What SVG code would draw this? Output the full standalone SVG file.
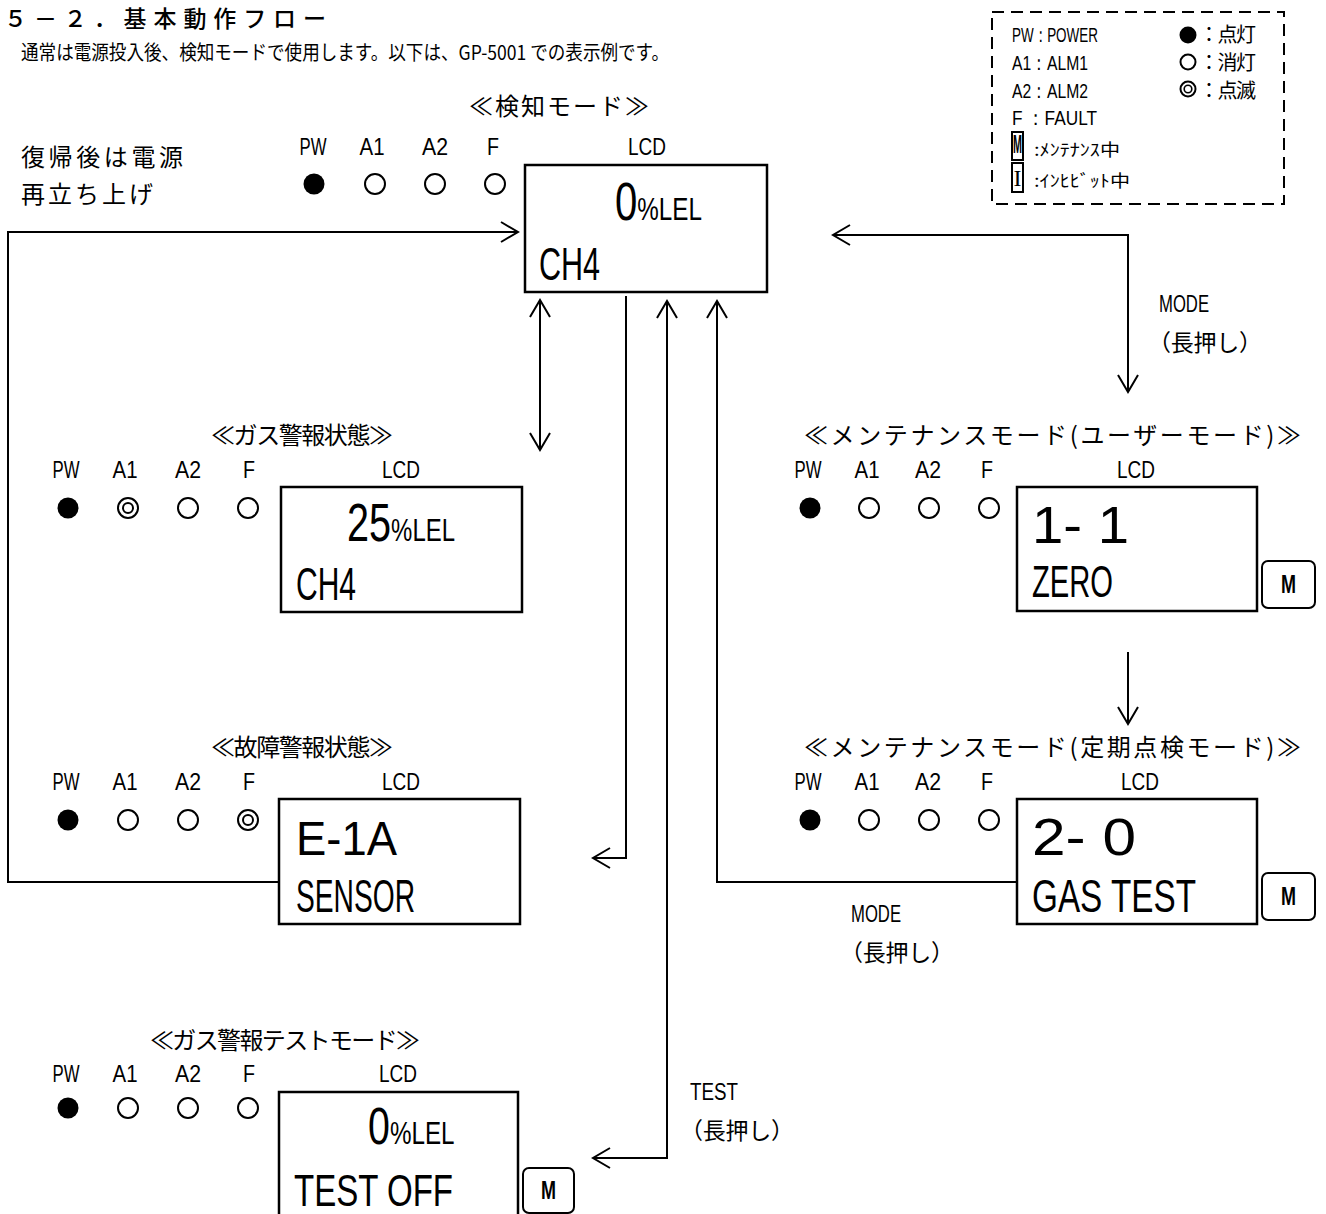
<svg xmlns="http://www.w3.org/2000/svg" width="1326" height="1214" viewBox="0 0 1326 1214">
<defs>
<style>
.jp{font-family:"Noto Sans CJK JP","Noto Sans",sans-serif;fill:#000}
.ln{font-family:"Liberation Sans","DejaVu Sans",sans-serif;fill:#000}
.lbl{font-size:24px;text-anchor:middle}
.ttl{font-size:24px}
.box{fill:#fff;stroke:#000;stroke-width:2.5}
.on{fill:#000}
.off{fill:none;stroke:#000;stroke-width:2}
.badge{fill:#fff;stroke:#000;stroke-width:2}
.mb{font-family:"Liberation Sans",sans-serif;font-weight:bold;font-size:26px;text-anchor:middle}
.conn{fill:none;stroke:#000;stroke-width:2}
</style>
<marker id="ah" viewBox="-19 -12 21 24" refX="0" refY="0" markerWidth="21" markerHeight="24" markerUnits="userSpaceOnUse" orient="auto-start-reverse">
<path d="M-17,-10 L0,0 L-17,10" fill="none" stroke="#000" stroke-width="2"/>
</marker>
</defs>
<rect width="1326" height="1214" fill="#fff"/>

<g id="header">
<text class="jp" x="4" y="27" font-size="23" font-weight="500" textLength="322">５－２．基本動作フロー</text>
<text class="jp" x="21" y="60" font-size="20" textLength="648" lengthAdjust="spacingAndGlyphs">通常は電源投入後、検知モードで使用します。以下は、GP-5001 での表示例です。</text>
<text class="jp" x="21" y="166" font-size="24" textLength="162">復帰後は電源</text>
<text class="jp" x="21" y="203" font-size="24" textLength="132">再立ち上げ</text>
</g>

<g id="legend">
<rect x="992" y="12" width="292" height="192" fill="none" stroke="#000" stroke-width="2" stroke-dasharray="12 7"/>
<text class="ln" x="1012" y="42" font-size="21" textLength="86" lengthAdjust="spacingAndGlyphs">PW：POWER</text>
<text class="ln" x="1012" y="70" font-size="21" textLength="76" lengthAdjust="spacingAndGlyphs">A1：ALM1</text>
<text class="ln" x="1012" y="98" font-size="21" textLength="76" lengthAdjust="spacingAndGlyphs">A2：ALM2</text>
<text class="ln" x="1012" y="125" font-size="21" textLength="85" lengthAdjust="spacingAndGlyphs">F ：FAULT</text>
<rect x="1012" y="132" width="11" height="28" fill="none" stroke="#000" stroke-width="2"/>
<text class="mb" x="1017.5" y="153" font-size="24" textLength="9" lengthAdjust="spacingAndGlyphs">M</text>
<text class="jp" x="1034" y="156" font-size="17" textLength="86" lengthAdjust="spacingAndGlyphs">:ﾒﾝﾃﾅﾝｽ中</text>
<rect x="1012" y="163" width="11" height="29" fill="none" stroke="#000" stroke-width="2"/>
<text x="1017.5" y="186" font-family="Liberation Serif,serif" font-size="24" text-anchor="middle" textLength="8" lengthAdjust="spacingAndGlyphs">I</text>
<text class="jp" x="1034" y="187" font-size="17" textLength="96" lengthAdjust="spacingAndGlyphs">:ｲﾝﾋﾋﾞｯﾄ中</text>
<circle cx="1188" cy="35" r="8.5" class="on"/>
<circle cx="1188" cy="62" r="7.5" class="off"/>
<circle cx="1188" cy="89" r="7.5" class="off"/>
<circle cx="1188" cy="89" r="3.8" fill="none" stroke="#000" stroke-width="1.6"/>
<text class="jp" x="1199" y="42" font-size="20" textLength="57">：点灯</text>
<text class="jp" x="1199" y="70" font-size="20" textLength="57">：消灯</text>
<text class="jp" x="1199" y="98" font-size="20" textLength="57">：点滅</text>
</g>

<g id="n-detect">
<text class="jp ttl" x="469" y="115" textLength="180">≪検知モード≫</text>
<text class="ln lbl" x="313" y="155" textLength="27" lengthAdjust="spacingAndGlyphs">PW</text>
<text class="ln lbl" x="372" y="155" textLength="25" lengthAdjust="spacingAndGlyphs">A1</text>
<text class="ln lbl" x="435" y="155" textLength="26" lengthAdjust="spacingAndGlyphs">A2</text>
<text class="ln lbl" x="493" y="155" textLength="12" lengthAdjust="spacingAndGlyphs">F</text>
<text class="ln lbl" x="647" y="155" textLength="38" lengthAdjust="spacingAndGlyphs">LCD</text>
<circle cx="314" cy="184" r="10.5" class="on"/>
<circle cx="375" cy="184" r="10" class="off"/>
<circle cx="435" cy="184" r="10" class="off"/>
<circle cx="495" cy="184" r="10" class="off"/>
<rect x="525" y="165" width="242" height="127" class="box"/>
<text class="ln" transform="translate(615,220) scale(0.757,1)"><tspan font-size="53">0</tspan><tspan font-size="32">%LEL</tspan></text>
<text class="ln" x="539" y="280" font-size="46" textLength="61" lengthAdjust="spacingAndGlyphs">CH4</text>
</g>

<g id="n-gas">
<text class="jp ttl" x="211" y="444" textLength="182">≪ガス警報状態≫</text>
<text class="ln lbl" x="66" y="478" textLength="27" lengthAdjust="spacingAndGlyphs">PW</text>
<text class="ln lbl" x="125" y="478" textLength="25" lengthAdjust="spacingAndGlyphs">A1</text>
<text class="ln lbl" x="188" y="478" textLength="26" lengthAdjust="spacingAndGlyphs">A2</text>
<text class="ln lbl" x="249" y="478" textLength="12" lengthAdjust="spacingAndGlyphs">F</text>
<text class="ln lbl" x="401" y="478" textLength="38" lengthAdjust="spacingAndGlyphs">LCD</text>
<circle cx="68" cy="508" r="10.5" class="on"/>
<circle cx="128" cy="508" r="10" class="off"/>
<circle cx="128" cy="508" r="5" class="off"/>
<circle cx="188" cy="508" r="10" class="off"/>
<circle cx="248" cy="508" r="10" class="off"/>
<rect x="281" y="487" width="241" height="125" class="box"/>
<text class="ln" transform="translate(347,541) scale(0.748,1)"><tspan font-size="53">25</tspan><tspan font-size="32">%LEL</tspan></text>
<text class="ln" x="296" y="600" font-size="46" textLength="60" lengthAdjust="spacingAndGlyphs">CH4</text>
</g>

<g id="n-fault">
<text class="jp ttl" x="211" y="756" textLength="182">≪故障警報状態≫</text>
<text class="ln lbl" x="66" y="790" textLength="27" lengthAdjust="spacingAndGlyphs">PW</text>
<text class="ln lbl" x="125" y="790" textLength="25" lengthAdjust="spacingAndGlyphs">A1</text>
<text class="ln lbl" x="188" y="790" textLength="26" lengthAdjust="spacingAndGlyphs">A2</text>
<text class="ln lbl" x="249" y="790" textLength="12" lengthAdjust="spacingAndGlyphs">F</text>
<text class="ln lbl" x="401" y="790" textLength="38" lengthAdjust="spacingAndGlyphs">LCD</text>
<circle cx="68" cy="820" r="10.5" class="on"/>
<circle cx="128" cy="820" r="10" class="off"/>
<circle cx="188" cy="820" r="10" class="off"/>
<circle cx="248" cy="820" r="10" class="off"/>
<circle cx="248" cy="820" r="5" class="off"/>
<rect x="279" y="799" width="241" height="125" class="box"/>
<text class="ln" x="296" y="855" font-size="49" textLength="101" lengthAdjust="spacingAndGlyphs">E-1A</text>
<text class="ln" x="296" y="912" font-size="47" textLength="119" lengthAdjust="spacingAndGlyphs">SENSOR</text>
</g>

<g id="n-test">
<text class="jp ttl" x="150" y="1049" textLength="270">≪ガス警報テストモード≫</text>
<text class="ln lbl" x="66" y="1082" textLength="27" lengthAdjust="spacingAndGlyphs">PW</text>
<text class="ln lbl" x="125" y="1082" textLength="25" lengthAdjust="spacingAndGlyphs">A1</text>
<text class="ln lbl" x="188" y="1082" textLength="26" lengthAdjust="spacingAndGlyphs">A2</text>
<text class="ln lbl" x="249" y="1082" textLength="12" lengthAdjust="spacingAndGlyphs">F</text>
<text class="ln lbl" x="398" y="1082" textLength="38" lengthAdjust="spacingAndGlyphs">LCD</text>
<circle cx="68" cy="1108" r="10.5" class="on"/>
<circle cx="128" cy="1108" r="10" class="off"/>
<circle cx="188" cy="1108" r="10" class="off"/>
<circle cx="248" cy="1108" r="10" class="off"/>
<rect x="279" y="1092" width="239" height="132" class="box"/>
<text class="ln" transform="translate(368,1144) scale(0.757,1)"><tspan font-size="52">0</tspan><tspan font-size="32">%LEL</tspan></text>
<text class="ln" x="294" y="1206" font-size="44" textLength="159" lengthAdjust="spacingAndGlyphs">TEST OFF</text>
<rect x="523" y="1168" width="51" height="45" rx="6" class="badge"/>
<text class="mb" x="548.5" y="1199" textLength="15" lengthAdjust="spacingAndGlyphs">M</text>
</g>

<g id="n-user">
<text class="jp ttl" x="804" y="444" textLength="497">≪メンテナンスモード(ユーザーモード)≫</text>
<text class="ln lbl" x="808" y="478" textLength="27" lengthAdjust="spacingAndGlyphs">PW</text>
<text class="ln lbl" x="867" y="478" textLength="25" lengthAdjust="spacingAndGlyphs">A1</text>
<text class="ln lbl" x="928" y="478" textLength="26" lengthAdjust="spacingAndGlyphs">A2</text>
<text class="ln lbl" x="987" y="478" textLength="12" lengthAdjust="spacingAndGlyphs">F</text>
<text class="ln lbl" x="1136" y="478" textLength="38" lengthAdjust="spacingAndGlyphs">LCD</text>
<circle cx="810" cy="508" r="10.5" class="on"/>
<circle cx="869" cy="508" r="10" class="off"/>
<circle cx="929" cy="508" r="10" class="off"/>
<circle cx="989" cy="508" r="10" class="off"/>
<rect x="1017" y="487" width="240" height="124" class="box"/>
<text class="ln" x="1032" y="543" font-size="52" textLength="97" lengthAdjust="spacingAndGlyphs">1- 1</text>
<text class="ln" x="1032" y="597" font-size="44" textLength="81" lengthAdjust="spacingAndGlyphs">ZERO</text>
<rect x="1262" y="561" width="53" height="47" rx="6" class="badge"/>
<text class="mb" x="1288.5" y="593" textLength="15" lengthAdjust="spacingAndGlyphs">M</text>
</g>

<g id="n-periodic">
<text class="jp ttl" x="804" y="756" textLength="497">≪メンテナンスモード(定期点検モード)≫</text>
<text class="ln lbl" x="808" y="790" textLength="27" lengthAdjust="spacingAndGlyphs">PW</text>
<text class="ln lbl" x="867" y="790" textLength="25" lengthAdjust="spacingAndGlyphs">A1</text>
<text class="ln lbl" x="928" y="790" textLength="26" lengthAdjust="spacingAndGlyphs">A2</text>
<text class="ln lbl" x="987" y="790" textLength="12" lengthAdjust="spacingAndGlyphs">F</text>
<text class="ln lbl" x="1140" y="790" textLength="38" lengthAdjust="spacingAndGlyphs">LCD</text>
<circle cx="810" cy="820" r="10.5" class="on"/>
<circle cx="869" cy="820" r="10" class="off"/>
<circle cx="929" cy="820" r="10" class="off"/>
<circle cx="989" cy="820" r="10" class="off"/>
<rect x="1017" y="799" width="240" height="125" class="box"/>
<text class="ln" x="1032" y="855" font-size="52" textLength="104" lengthAdjust="spacingAndGlyphs">2- 0</text>
<text class="ln" x="1032" y="912" font-size="47" textLength="164" lengthAdjust="spacingAndGlyphs">GAS TEST</text>
<rect x="1262" y="873" width="53" height="47" rx="6" class="badge"/>
<text class="mb" x="1288.5" y="905" textLength="15" lengthAdjust="spacingAndGlyphs">M</text>
</g>

<g id="connectors">
<path class="conn" d="M279,882 H8 V232 H518" marker-end="url(#ah)"/>
<path class="conn" d="M540,300 V450" marker-start="url(#ah)" marker-end="url(#ah)"/>
<path class="conn" d="M626,296 V858 H593" marker-end="url(#ah)"/>
<path class="conn" d="M593,1158 H667 V301" marker-start="url(#ah)" marker-end="url(#ah)"/>
<path class="conn" d="M1017,882 H717 V301" marker-end="url(#ah)"/>
<path class="conn" d="M833,235 H1128 V392" marker-start="url(#ah)" marker-end="url(#ah)"/>
<path class="conn" d="M1128,652 V724" marker-end="url(#ah)"/>
</g>

<g id="connector-labels">
<text class="ln" x="1159" y="312" font-size="24" textLength="50" lengthAdjust="spacingAndGlyphs">MODE</text>
<text class="jp" x="1148" y="351" font-size="23" textLength="114">（長押し）</text>
<text class="ln" x="851" y="922" font-size="24" textLength="50" lengthAdjust="spacingAndGlyphs">MODE</text>
<text class="jp" x="840" y="961" font-size="23" textLength="114">（長押し）</text>
<text class="ln" x="690" y="1100" font-size="24" textLength="48" lengthAdjust="spacingAndGlyphs">TEST</text>
<text class="jp" x="680" y="1139" font-size="23" textLength="114">（長押し）</text>
</g>
</svg>
